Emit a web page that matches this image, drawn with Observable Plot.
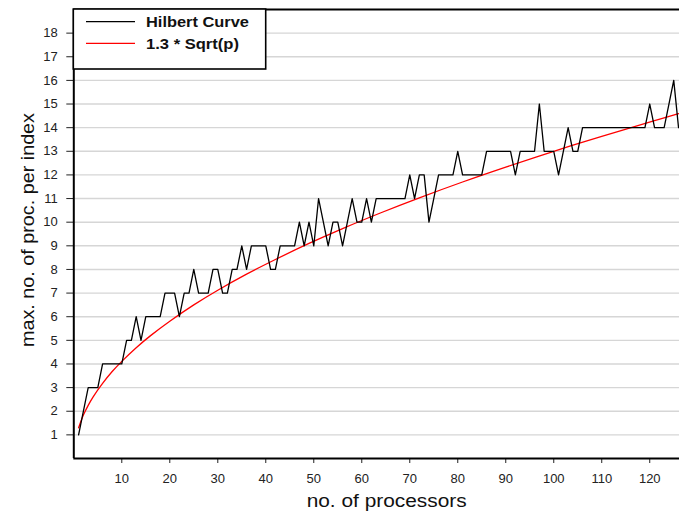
<!DOCTYPE html>
<html><head><meta charset="utf-8">
<script src="https://cdn.jsdelivr.net/npm/d3@7"></script>
<script src="https://cdn.jsdelivr.net/npm/@observablehq/plot@0.6"></script>
<style>
body{margin:0;background:#fff;}
svg{font-family:"Liberation Sans",Arial,Helvetica,sans-serif;}
</style>
</head><body><div id="chart"></div>
<script>
// max. no. of processors per index (Hilbert curve), p = 1..126
const hilbertMax = [
  1,2,3,3,3,4,4,4,4,4,
  5,5,6,5,6,6,6,6,7,7,
  7,6,7,7,8,7,7,7,8,8,
  7,7,8,8,9,8,9,9,9,9,
  8,8,9,9,9,9,10,9,10,9,
  11,10,9,10,10,9,10,11,10,10,
  11,10,11,11,11,11,11,11,11,12,
  11,12,12,10,11,12,12,12,12,13,
  12,12,12,12,12,13,13,13,13,13,
  13,12,13,13,13,13,15,13,13,13,
  12,13,14,13,13,14,14,14,14,14,
  14,14,14,14,14,14,14,14,14,15,
  14,14,14,15,16,14
];
const processors = hilbertMax.map((_, i) => i + 1);
// reference curve 1.3 * Sqrt(p), values read at sample points
const sqrtP = [1,2,3,4,6,8,10,13,16,20,25,30,36,42,49,56,64,72,81,90,100,110,121,126];
const sqrtVal = [1.30,1.84,2.25,2.60,3.18,3.68,4.11,4.69,5.20,5.81,6.50,7.12,7.80,8.42,9.10,9.73,10.40,11.03,11.70,12.33,13.00,13.63,14.30,14.59];
const xTicks = [10,20,30,40,50,60,70,80,90,100,110,120];
const yTicks = [1,2,3,4,5,6,7,8,9,10,11,12,13,14,15,16,17,18];
const seriesNames = ["Hilbert Curve", "1.3 * Sqrt(p)"];
const seriesColors = ["#000000", "#ff0000"];
const xTitle = "no. of processors";
const yTitle = "max. no. of proc. per index";

const hilbert = processors.map((p, i) => ({p, v: hilbertMax[i]}));
const curve = sqrtP.map((p, i) => ({p, v: sqrtVal[i]}));

const plot = Plot.plot({
  width: 679,
  height: 523,
  marginLeft: 73.3,
  marginRight: 0,
  marginTop: 9,
  marginBottom: 65,
  style: {fontFamily: '"Liberation Sans", Arial, sans-serif', background: "#fff"},
  x: {domain: [0, 126.2]},
  y: {domain: [0, 19]},
  marks: [
    Plot.gridY(yTicks, {stroke: "#d6d6d6", strokeOpacity: 1, strokeWidth: 1.4}),
    Plot.axisX(xTicks, {tickSize: 5, tickPadding: 10, fontSize: 13, label: null, stroke: "#222", fill: "#222"}),
    Plot.axisY(yTicks, {tickSize: 7, tickPadding: 9, fontSize: 13, label: null, stroke: "#222", fill: "#222"}),
    Plot.line(curve, {x: "p", y: "v", stroke: seriesColors[1], strokeWidth: 1.3, curve: "catmull-rom"}),
    Plot.line(hilbert, {x: "p", y: "v", stroke: seriesColors[0], strokeWidth: 1.3}),
    Plot.ruleX([0], {stroke: "#000", strokeWidth: 2}),
    Plot.ruleY([0, 19], {stroke: "#000", strokeWidth: 2}),
    Plot.text([xTitle], {frameAnchor: "bottom", dy: 48, dx: 10, fontSize: 18, fill: "#111", className: "xtitle"}),
    Plot.text([yTitle], {frameAnchor: "left", textAnchor: "middle", dx: -46, dy: -4, rotate: -90, fontSize: 18, fill: "#111", className: "ytitle"})
  ]
});

const svg = d3.select(plot);
// stretch titles horizontally like the reference rendering
svg.selectAll(".xtitle text").attr("textLength", 160).attr("lengthAdjust", "spacingAndGlyphs");
svg.selectAll(".ytitle text").attr("textLength", 234).attr("lengthAdjust", "spacingAndGlyphs");

// legend box at top-left of plot region
const legendLengths = [103, 93];
const lg = svg.append("g").attr("text-anchor", "start");
lg.append("rect").attr("x", 73.3).attr("y", 9).attr("width", 192.4).attr("height", 60)
  .attr("fill", "#fff").attr("stroke", "#000").attr("stroke-width", 1.6);
seriesNames.forEach((name, i) => {
  const y = 21.7 + i * 21.6;
  lg.append("line").attr("x1", 86).attr("x2", 135).attr("y1", y).attr("y2", y)
    .attr("stroke", seriesColors[i]).attr("stroke-width", 1.3);
  lg.append("text").attr("x", 146).attr("y", y).attr("dy", "0.36em")
    .attr("font-size", 15).attr("font-weight", "bold").attr("fill", "#111")
    .attr("textLength", legendLengths[i]).attr("lengthAdjust", "spacingAndGlyphs").text(name);
});
document.getElementById("chart").appendChild(plot);
</script>
</body></html>
